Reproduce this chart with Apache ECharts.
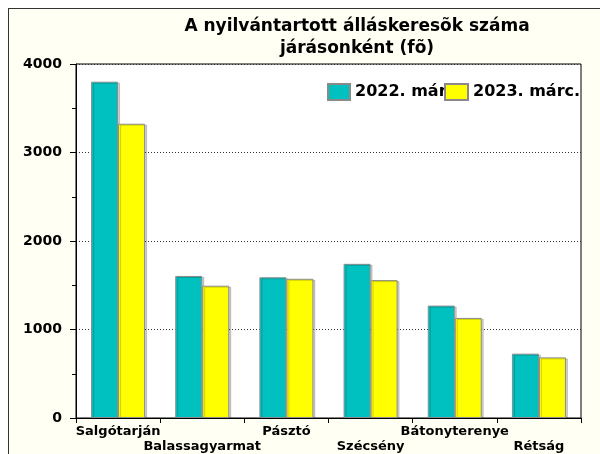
<!DOCTYPE html>
<html>
<head>
<meta charset="utf-8">
<script src="https://cdn.jsdelivr.net/npm/echarts@6/dist/echarts.min.js"></script>
<style>
    html, body { margin: 0; padding: 0; background: #fff; overflow: hidden; }
    #frame { position: absolute; left: 8px; top: 8px; width: 640px; height: 500px;
             border: 1px solid #333; background: #fffff3; }
    #main { position: absolute; left: 0; top: 0; width: 600px; height: 454px; }
</style>
</head>
<body>
<div id="frame"></div>
<div id="main"></div>
<script>
    // adatok
    var districts = ['Salgótarján', 'Balassagyarmat', 'Pásztó', 'Szécsény', 'Bátonyterenye', 'Rétság'];
    var seriesNames = ['2022. márc.', '2023. márc.'];
    var values2022 = [3800, 1605, 1590, 1742, 1270, 727];
    var values2023 = [3325, 1495, 1573, 1558, 1131, 685];
    var yTicks = [0, 1000, 2000, 3000, 4000];

    var chart = echarts.init(document.getElementById('main'));
    var font = 'DejaVu Sans';
    var colors = ['#00c0c0', '#ffff00'];

    var barStyle = function (c) {
        return {
            color: c,
            borderColor: '#8a8a8a',
            borderWidth: 1,
            shadowColor: 'rgba(0,0,0,0.18)',
            shadowOffsetX: 2,
            shadowOffsetY: 1
        };
    };
    var legendText = { fontFamily: font, fontSize: 16, fontWeight: 'bold', color: '#000' };

    var option = {
        animation: false,
        textStyle: { fontFamily: font },
        title: {
            text: 'A nyilvántartott álláskeresõk száma\njárásonként (fõ)',
            left: 352,
            top: 11,
            textAlign: 'center',
            textStyle: { fontFamily: font, fontSize: 17, fontWeight: 'bold', color: '#000', lineHeight: 22 }
        },
        // két külön jelmagyarázat, hogy a sárga négyzet rálógjon az elsõ feliratra
        legend: [{
            data: [seriesNames[0]],
            icon: 'rect',
            left: 322, top: 78,
            itemWidth: 22, itemHeight: 16,
            textStyle: legendText
        }, {
            data: [seriesNames[1]],
            icon: 'rect',
            left: 439, top: 78,
            itemWidth: 23, itemHeight: 16,
            textStyle: legendText
        }],
        grid: {
            left: 76, right: 19, top: 64, bottom: 36,
            show: true, backgroundColor: '#fff', borderColor: '#000', borderWidth: 1
        },
        xAxis: {
            type: 'category',
            data: districts,
            axisLine: { lineStyle: { color: '#000', width: 1 } },
            axisTick: { show: true, length: 5, lineStyle: { color: '#000' } },
            axisLabel: {
                interval: 0, margin: 6, color: '#000', fontFamily: font, fontSize: 13,
                fontWeight: 'bold', lineHeight: 15,
                formatter: function (v, i) { return i % 2 === 1 ? '\n' + v : v; }
            }
        },
        yAxis: {
            type: 'value',
            min: yTicks[0], max: yTicks[yTicks.length - 1], interval: 1000,
            axisLine: { show: true, lineStyle: { color: '#000', width: 1 } },
            axisTick: { show: true, length: 6, lineStyle: { color: '#000' } },
            minorTick: { show: true, splitNumber: 2, length: 4, lineStyle: { color: '#000' } },
            axisLabel: {
                color: '#000', fontFamily: font, fontSize: 14, fontWeight: 'bold', margin: 14,
                formatter: function (v) { return String(v); }
            },
            splitLine: { show: true, lineStyle: { color: '#333', type: [1, 2], width: 1 } }
        },
        series: [{
            name: seriesNames[0],
            type: 'bar',
            data: values2022,
            barWidth: 27,
            barGap: '0%',
            itemStyle: barStyle(colors[0])
        }, {
            name: seriesNames[1],
            type: 'bar',
            data: values2023,
            barWidth: 27,
            barGap: '0%',
            itemStyle: barStyle(colors[1])
        }]
    };

    chart.setOption(option);
</script>
</body>
</html>
